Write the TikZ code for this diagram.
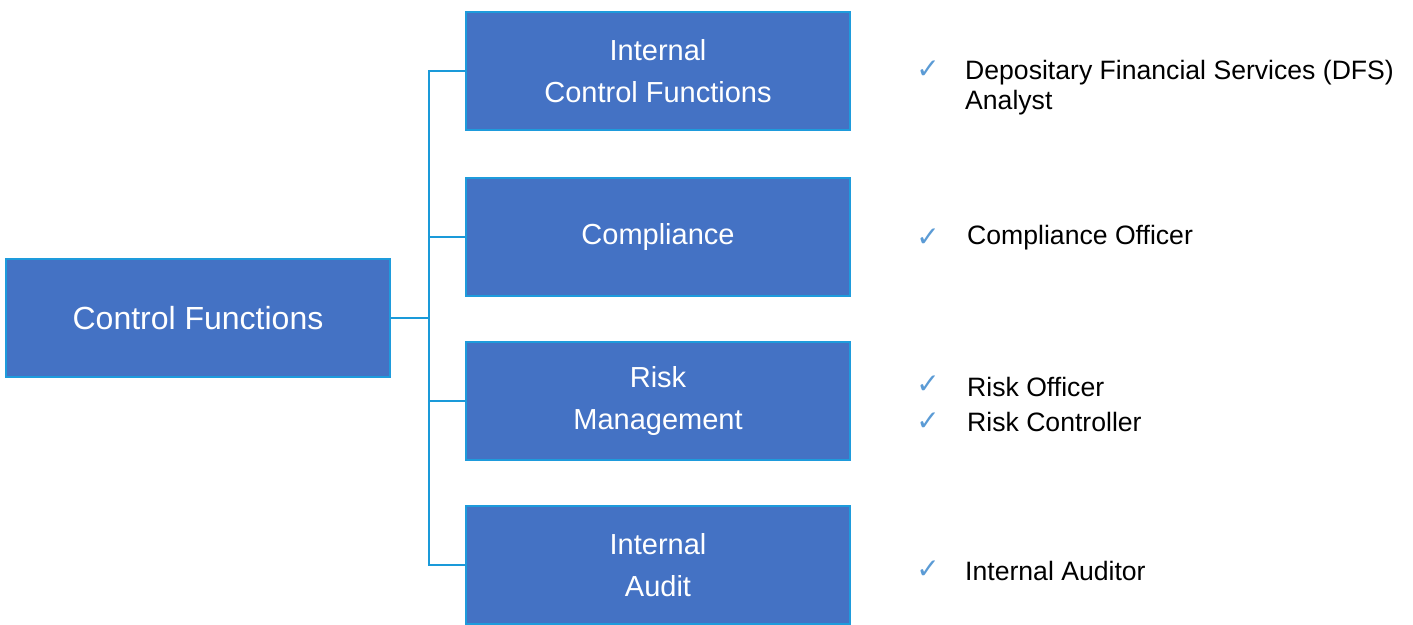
\documentclass[tikz,border=0pt]{standalone}
\usepackage{fontspec}
\setmainfont{Liberation Sans}
\newfontfamily\symfont{DejaVu Sans}
\definecolor{boxfill}{HTML}{4472C4}
\definecolor{boxline}{HTML}{1E9BDC}
\definecolor{connc}{HTML}{1A9AD9}
\definecolor{checkc}{HTML}{5B9BD5}
\tikzset{
  fbox/.style={draw=boxline, line width=2pt, fill=boxfill, text=white, minimum width=384pt, minimum height=118pt, align=center, inner sep=0pt, font=\fontsize{29}{42}\selectfont},
  mainbox/.style={fbox, font=\fontsize{32}{40}\selectfont},
  conn/.style={draw=connc, line width=2.8pt},
  item/.style={anchor=west, align=left, inner sep=0pt, font=\fontsize{26.6}{30}\selectfont},
  chk/.style={inner sep=0pt, text=checkc, font=\symfont\fontsize{28}{28}\selectfont}
}
\begin{document}
\begin{tikzpicture}[x=1pt,y=-1pt]
\useasboundingbox (0,0) rectangle (1413,624);
\node[mainbox] (main) at (198,318) {Control Functions};
\node[fbox] (b1) at (658,71) {Internal\\Control Functions};
\node[fbox] (b2) at (658,237) {Compliance};
\node[fbox] (b3) at (658,401) {Risk\\Management};
\node[fbox] (b4) at (658,565) {Internal\\Audit};
\coordinate (j) at (429,318);
\draw[conn] (main.east) -- (j);
\draw[conn] (b1.west) -- (b1.west -| j) -- (b4.west -| j) -- (b4.west);
\draw[conn] (b2.west) -- (b2.west -| j);
\draw[conn] (b3.west) -- (b3.west -| j);
\node[chk] (c1) at (928,70) {✓};
\node[item] (t1) at (965,88) {Depositary Financial Services (DFS)\\Analyst};
\node[chk] (c2) at (928,238) {✓};
\node[item] (t2) at (967,238) {Compliance Officer};
\node[chk] (c3) at (928,385) {✓};
\node[item] (t3) at (967,387) {Risk Officer};
\node[chk] (c4) at (928,422) {✓};
\node[item] (t4) at (967,422) {Risk Controller};
\node[chk] (c5) at (928,570) {✓};
\node[item] (t5) at (965,571) {Internal Auditor};
\end{tikzpicture}
\end{document}
